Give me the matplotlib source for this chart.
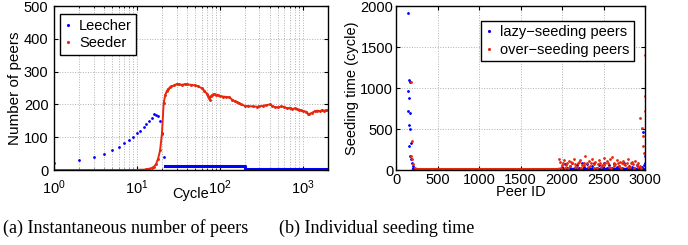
import matplotlib
matplotlib.use("Agg")
import matplotlib.pyplot as plt

plt.rcParams['font.family'] = ['Liberation Sans', 'DejaVu Sans']

# ---- (a) instantaneous number of peers ----
leech_cycle = [1, 2, 3, 4, 5, 6, 7, 8, 9, 10, 11, 12, 13, 14, 15, 16, 17, 18, 19, 20, 21]
leech_count = [20, 30, 40, 50, 61, 71, 82, 92, 102, 112, 120, 130, 140, 150, 160, 170, 168, 165, 150, 112, 40]
# flat part (dense points read as a band)
leech_flat_cycle = [22, 200, 200, 2000]
leech_flat_count = [11, 11, 4, 4]

seed_cycle = [1, 2, 3, 4, 5, 6, 7, 8, 9, 10, 11, 12, 13, 14, 15, 16, 17, 18, 19, 20,
              21, 22, 23, 24, 25, 26, 28, 30, 32, 35, 38, 40, 45, 50, 55, 60, 65, 70,
              72, 75, 78, 80, 85, 90, 95, 100, 110, 120, 130, 140, 150, 160, 170, 180,
              200, 220, 250, 280, 300, 330, 360, 400, 430, 460, 500, 550, 600, 650,
              700, 750, 800, 850, 900, 950, 1000, 1100, 1150, 1200, 1300, 1400, 1500,
              1600, 1700, 1800, 1900, 2000]
seed_count = [0, 0, 0, 0, 0, 0, 0, 0, 0, 0, 1, 1, 2, 4, 6, 10, 18, 35, 60, 110,
              205, 230, 242, 248, 252, 255, 258, 262, 261, 260, 262, 261, 260, 258, 255, 250, 242, 232,
              225, 215, 225, 228, 232, 230, 228, 226, 224, 223, 222, 215, 210, 207, 203, 200,
              196, 195, 194, 193, 194, 196, 198, 200, 196, 192, 191, 194, 192, 188,
              190, 186, 188, 186, 184, 182, 180, 178, 172, 171, 175, 180, 181,
              180, 182, 181, 182, 182]

# ---- (b) individual seeding time ----
lazy_id = [140, 157, 169, 150, 157, 150, 169, 157, 169, 157, 177, 169, 181, 189, 201, 209,
           2000, 2030, 2060, 2090, 2120, 2150, 2180, 2210, 2240, 2270, 2300, 2330, 2360,
           2390, 2420, 2450, 2480, 2510, 2540, 2570, 2600, 2630, 2660, 2690, 2720, 2750,
           2780, 2810, 2840, 2870, 2900, 2930, 2960, 2990, 2980, 2995, 3000]
lazy_time = [1920, 1100, 1080, 960, 875, 715, 695, 555, 495, 290, 330, 170, 130, 90, 50, 30,
             40, 70, 20, 50, 80, 30, 60, 20, 90, 40, 70, 30, 50,
             80, 20, 60, 40, 90, 30, 60, 20, 70, 40, 50, 30, 80,
             20, 50, 40, 30, 60, 20, 40, 60, 470, 170, 80]
lazy_base_id = [200, 1950, 1950, 3000]
lazy_base_time = [6, 6, 12, 12]

over_id = [181, 189, 177, 193, 209, 229, 249,
           1960, 1980, 2000, 2020, 2040, 2060, 2080, 2100, 2120, 2140, 2160, 2180, 2200,
           2220, 2240, 2260, 2280, 2300, 2320, 2340, 2360, 2380, 2400, 2420, 2440, 2460,
           2480, 2500, 2520, 2540, 2560, 2580, 2600, 2620, 2640, 2660, 2680, 2700, 2720,
           2740, 2760, 2780, 2800, 2820, 2840, 2860, 2880, 2900, 2920, 2940,
           1990, 2010, 2050, 2070, 2110, 2150, 2190, 2230, 2270, 2310, 2350, 2390, 2430,
           2470, 2510, 2550, 2590, 2630, 2670, 2710, 2750, 2790, 2830, 2870, 2910, 2950,
           2940, 2960, 2980, 2972, 2988, 3000, 3000, 3000]
over_time = [1080, 350, 170, 130, 70, 30, 10,
             140, 100, 60, 120, 30, 80, 110, 50, 90, 130, 70, 40, 100,
             120, 60, 90, 170, 80, 110, 50, 140, 70, 100, 30, 120, 90,
             60, 150, 80, 110, 40, 130, 160, 90, 70, 120, 50, 100, 80,
             110, 60, 90, 130, 40, 100, 70, 110, 60, 90, 50,
             30, 90, 60, 20, 100, 40, 80, 30, 60, 40, 90, 20, 70,
             40, 60, 90, 30, 50, 80, 30, 70, 40, 80, 30, 40, 20,
             635, 513, 412, 290, 210, 1400, 900, 715]
over_base_id = [200, 1950]
over_base_time = [8, 8]

blue = '#0000ff'
red = '#e8280c'

fig = plt.figure(figsize=(6.88, 2.45), dpi=100)
ax1 = fig.add_axes([0.0785, 0.306, 0.398, 0.669])
ax2 = fig.add_axes([0.5756, 0.306, 0.362, 0.669])

# (a)
ax1.plot(leech_flat_cycle, leech_flat_count, '-', color=blue, lw=2.2)
ax1.plot(leech_cycle, leech_count, '.', color=blue, ms=2, label='Leecher')
ax1.plot(seed_cycle, seed_count, '.-', color=red, ms=2.2, lw=1.4, label='Seeder')
ax1.set_xscale('log')
ax1.set_xlim(1, 2000)
ax1.set_ylim(0, 500)
ax1.set_yticks([0, 100, 200, 300, 400, 500])
ax1.set_xlabel('Cycle', fontsize=10.5, labelpad=-7)
ax1.set_ylabel('Number of peers', fontsize=11, labelpad=1)
ax1.grid(True, which='major', ls=':', color='#b0b0b0', lw=0.7)
ax1.grid(True, which='minor', axis='x', ls=':', color='#b0b0b0', lw=0.7)
leg1 = ax1.legend(loc='upper left', fontsize=10.5, fancybox=False, framealpha=1,
                  edgecolor='black', handlelength=0.5, handletextpad=0.5,
                  borderpad=0.3, labelspacing=0.25, borderaxespad=0,
                  bbox_to_anchor=(0.022, 0.95))
for h in leg1.legend_handles:
    h.set_linestyle('none')
    h.set_markersize(2.5)
leg1.get_frame().set_linewidth(1.0)

# (b)
ax2.plot(lazy_base_id, lazy_base_time, '-', color=blue, lw=2.5)
ax2.plot(over_base_id, over_base_time, '-', color=red, lw=2.2)
ax2.plot(lazy_id, lazy_time, '.', color=blue, ms=2, label='lazy\u2212seeding peers')
ax2.plot(over_id, over_time, '.', color=red, ms=2, label='over\u2212seeding peers')
ax2.set_xlim(0, 3000)
ax2.set_ylim(0, 2000)
ax2.set_xticks([0, 500, 1000, 1500, 2000, 2500, 3000])
ax2.set_yticks([0, 500, 1000, 1500, 2000])
ax2.set_xlabel('Peer ID', fontsize=10.5, labelpad=-1)
ax2.set_ylabel('Seeding time (cycle)', fontsize=10.5, labelpad=1)
ax2.grid(True, ls=':', color='#b0b0b0', lw=0.7)
leg2 = ax2.legend(loc='upper right', fontsize=10.5, fancybox=False, framealpha=1,
                  edgecolor='black', handlelength=0.5, handletextpad=0.5,
                  borderpad=0.3, labelspacing=0.25, borderaxespad=0,
                  bbox_to_anchor=(0.955, 0.91))
for h in leg2.legend_handles:
    h.set_markersize(2.5)
leg2.get_frame().set_linewidth(1.0)

for ax in (ax1, ax2):
    ax.tick_params(direction='in', which='both', top=True, right=True, labelsize=10.5, pad=2)
    ax.tick_params(which='major', length=3)
    ax.tick_params(which='minor', length=1.5)
    for s in ax.spines.values():
        s.set_linewidth(1.0)
ax1.tick_params(axis='y', pad=4)
ax1.tick_params(axis='x', pad=6)

fig.text(0.004, 0.07, '(a) Instantaneous number of peers', fontsize=13,
         family=['Liberation Serif', 'DejaVu Serif'], va='center', ha='left')
fig.text(0.405, 0.07, '(b) Individual seeding time', fontsize=13,
         family=['Liberation Serif', 'DejaVu Serif'], va='center', ha='left')

fig.savefig('out.png', dpi=100)
